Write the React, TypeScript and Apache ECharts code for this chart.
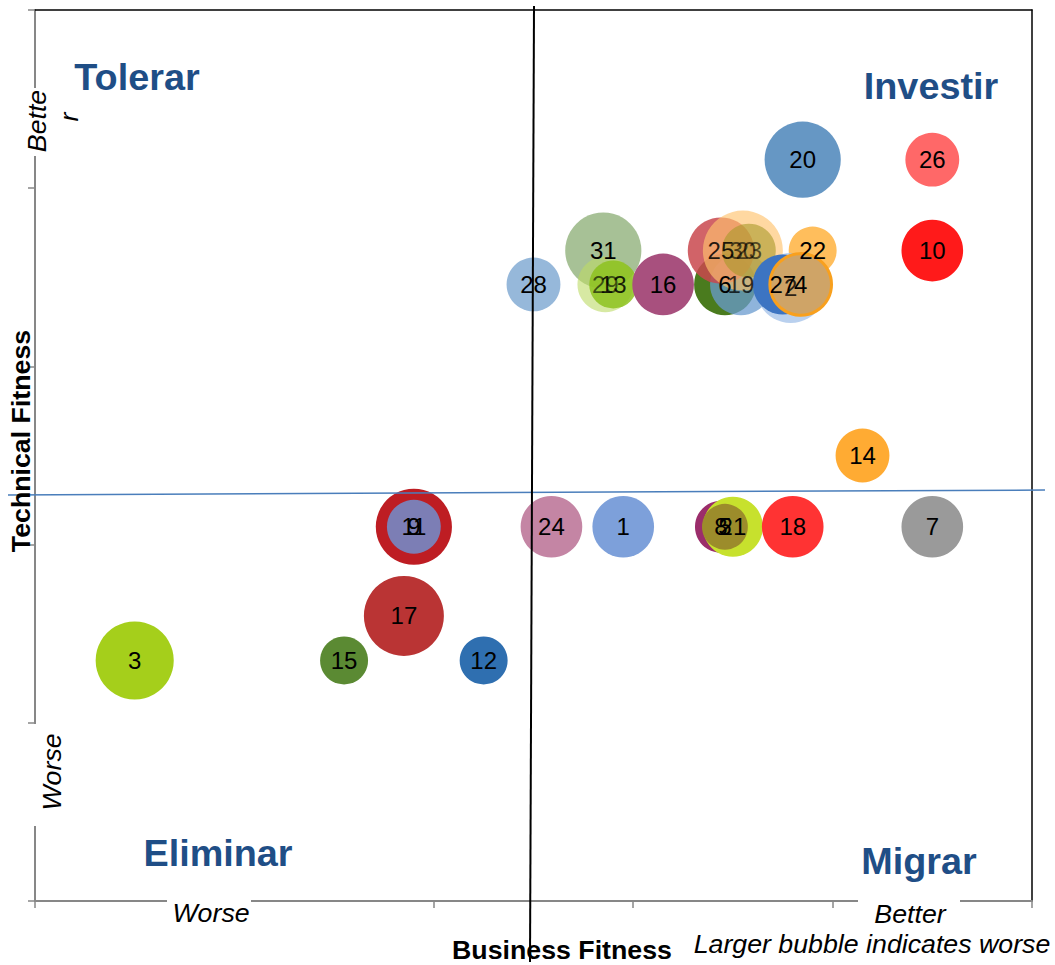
import React, { useEffect, useRef } from "react";
import * as echarts from "echarts";

// ---- data ----
const appIds = [3, 15, 12, 17, 11, 9, 24, 1, 8, 21, 5, 18, 7, 14, 28, 31, 29, 13, 16, 6, 19, 25, 30, 23, 22, 2, 27, 4, 10, 20, 26];
const businessFitness = [0.5, 1.55, 2.25, 1.85, 1.9, 1.9, 2.59, 2.95, 3.44, 3.5, 3.46, 3.8, 4.5, 4.15, 2.5, 2.85, 2.86, 2.9, 3.15, 3.46, 3.54, 3.44, 3.55, 3.58, 3.9, 3.79, 3.75, 3.84, 4.5, 3.85, 4.5];
const technicalFitness = [1.35, 1.35, 1.35, 1.6, 2.1, 2.1, 2.1, 2.1, 2.1, 2.1, 2.1, 2.1, 2.1, 2.5, 3.46, 3.65, 3.46, 3.46, 3.46, 3.46, 3.46, 3.65, 3.65, 3.65, 3.65, 3.44, 3.46, 3.46, 3.65, 4.16, 4.16];
const severity = [61, 23, 23, 64, 58, 29, 38, 38, 27, 36, 21, 38, 38, 29, 29, 58, 31, 23, 38, 38, 38, 44, 64, 29, 23, 49, 36, 38, 38, 58, 29];
const xTicks = [0, 1, 2, 3, 4, 5];
const yTicks = [0, 1, 2, 3, 4, 5];

// ---- styles ----
const bubbleColors = ["#A5CF1B", "#5B8A33", "#2F6FB0", "#BA3434", "#BE1D23", "#7C7EB5", "#C485A4", "#7DA0DA", "#9B2D6B", "#C7E12D", "#9C8C2B", "#FF3333", "#9A9A9A", "#FFAB33", "#96B8DA", "#A7C196", "#BCDB66", "#8DC21F", "#A8507E", "#4A7B1E", "#6A9BCF", "#C9484D", "#FFC36E", "#A89A2A", "#FFBE5C", "#A8C4EA", "#3C74C2", "#CFA467", "#FF1A1A", "#6697C4", "#FF6868"];
const bubbleOpacity = [1, 1, 1, 1, 1, 1, 1, 1, 1, 1, 1, 1, 1, 1, 1, 1, 0.6, 0.85, 1, 1, 0.75, 0.85, 0.65, 0.6, 1, 0.8, 1, 1, 1, 1, 1];
const SIZE_K = 10;
const FONT = '"Liberation Sans", Arial, sans-serif';
const QUAD = "#1F4E86";

export default function App() {
  const ref = useRef<HTMLDivElement>(null);
  useEffect(() => {
    if (!ref.current) return;
    const chart = echarts.init(ref.current, undefined, { renderer: "svg" });
    const data = appIds.map((id, i) => ({
      value: [businessFitness[i], technicalFitness[i], severity[i], id],
      itemStyle: {
        color: bubbleColors[i],
        opacity: bubbleOpacity[i],
        borderColor: id === 4 ? "#F8A01E" : undefined,
        borderWidth: id === 4 ? 3 : 0,
      },
    }));
    const txt = (text: string, x: number, y: number, font: string, fill = "#000", rotation = 0, scaleX = 1.07) => ({
      type: "text",
      x,
      y,
      rotation,
      scaleX,
      z: 100,
      style: { text, font, fill, align: "center", verticalAlign: "middle", textAlign: "center", textVerticalAlign: "middle" },
    });
    const whiteRect = (x: number, y: number, w: number, h: number) => ({
      type: "rect",
      z: 90,
      shape: { x, y, width: w, height: h },
      style: { fill: "#fff" },
    });
    const axisCommon = {
      type: "value",
      min: xTicks[0],
      max: xTicks[xTicks.length - 1],
      interval: 1,
      splitLine: { show: false },
      axisLabel: { show: false },
    };
    chart.setOption({
      animation: false,
      backgroundColor: "#fff",
      grid: { left: 35, top: 10, right: 23, bottom: 64, containLabel: false },
      xAxis: [
        {
          ...axisCommon,
          position: "bottom",
          axisLine: { show: true, onZero: false, lineStyle: { color: "#878787", width: 2 } },
          axisTick: { show: true, length: 7, inside: false, lineStyle: { color: "#878787", width: 1.5 } },
        },
        {
          ...axisCommon,
          position: "top",
          axisLine: { show: true, onZero: false, lineStyle: { color: "#000", width: 1.5 } },
          axisTick: { show: false },
        },
      ],
      yAxis: [
        {
          ...axisCommon,
          min: yTicks[0],
          max: yTicks[yTicks.length - 1],
          position: "left",
          axisLine: { show: true, onZero: false, lineStyle: { color: "#878787", width: 2 } },
          axisTick: { show: true, length: 7, inside: false, lineStyle: { color: "#878787", width: 1.5 } },
        },
        {
          ...axisCommon,
          min: yTicks[0],
          max: yTicks[yTicks.length - 1],
          position: "right",
          axisLine: { show: true, onZero: false, lineStyle: { color: "#000", width: 1.5 } },
          axisTick: { show: false },
        },
      ],
      series: [
        {
          type: "scatter",
          xAxisIndex: 0,
          yAxisIndex: 0,
          data,
          symbolSize: (v: number[]) => Math.sqrt(v[2]) * SIZE_K,
          label: {
            show: true,
            position: "inside",
            formatter: (p: any) => String(p.value[3]),
            color: "#000",
            fontSize: 24,
            fontFamily: FONT,
          },
          emphasis: { disabled: true },
        },
      ],
      graphic: [
        // quadrant dividers
        { type: "line", z: 95, shape: { x1: 8, y1: 495, x2: 1045, y2: 490 }, style: { stroke: "#4A7EBB", lineWidth: 1.5 } },
        { type: "line", z: 95, shape: { x1: 534, y1: 6, x2: 530, y2: 962 }, style: { stroke: "#000", lineWidth: 2 } },
        // white boxes behind axis end labels
        whiteRect(23, 88, 28, 68),
        whiteRect(25, 724, 40, 102),
        whiteRect(167, 894, 84, 16),
        whiteRect(858, 894, 102, 16),
        // quadrant names
        txt("Tolerar", 137, 78, `bold 36px ${FONT}`, QUAD, 0, 1.05),
        txt("Investir", 931, 87, `bold 36px ${FONT}`, QUAD, 0, 1.05),
        txt("Eliminar", 218, 854, `bold 36px ${FONT}`, QUAD, 0, 1.05),
        txt("Migrar", 919, 862, `bold 36px ${FONT}`, QUAD, 0, 1.05),
        // axis names
        txt("Technical Fitness", 21, 441, `bold 25px ${FONT}`, "#000", Math.PI / 2),
        txt("Business Fitness", 562, 950, `bold 25px ${FONT}`),
        txt("Larger bubble indicates worse", 872, 944, `italic 25px ${FONT}`),
        txt("Better", 910, 914, `italic 25px ${FONT}`),
        txt("Worse", 211, 913, `italic 25px ${FONT}`),
        txt("Worse", 52, 772, `italic 25px ${FONT}`, "#000", Math.PI / 2),
        txt("Bette", 37, 121, `italic 25px ${FONT}`, "#000", Math.PI / 2),
        txt("r", 69, 117, `italic 25px ${FONT}`, "#000", Math.PI / 2),
      ],
    });
    return () => chart.dispose();
  }, []);
  return <div ref={ref} style={{ position: "fixed", left: 0, top: 0, width: 1055, height: 965 }} />;
}
